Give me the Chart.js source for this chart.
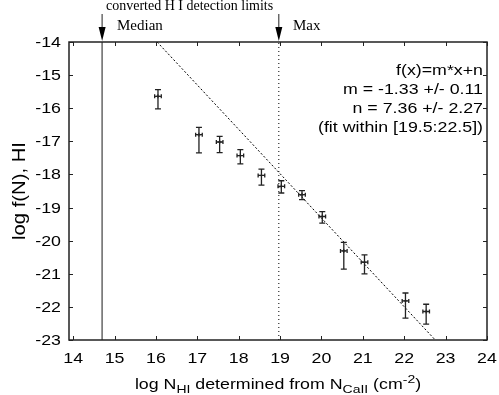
<!DOCTYPE html>
<html lang="en">
<head>
  <meta charset="UTF-8">
  <title>HI column density distribution</title>
  <style>
    body { margin: 0; padding: 0; background: #fff; }
    #wrap { width: 499px; height: 395px; }
  </style>
</head>
<body>
<div id="wrap"><canvas id="fnChart" width="499" height="395"></canvas></div>

<script src="https://cdn.jsdelivr.net/npm/chart.js"></script>
<script>
  // binned values
  const logN   = [16.05, 17.04, 17.54, 18.04, 18.55, 19.03, 19.53, 20.02, 20.54, 21.04, 22.03, 22.53];
  const logF   = [-15.64, -16.80, -17.02, -17.43, -18.03, -18.36, -18.61, -19.27, -20.31, -20.65, -21.82, -22.14];
  const logFHi = [-15.44, -16.58, -16.85, -17.25, -17.84, -18.19, -18.49, -19.12, -20.05, -20.43, -21.58, -21.92];
  const logFLo = [-16.02, -17.35, -17.34, -17.68, -18.32, -18.56, -18.76, -19.47, -20.86, -21.00, -22.34, -22.52];
  const logNErr = [0.08, 0.08, 0.08, 0.08, 0.08, 0.08, 0.08, 0.08, 0.08, 0.08, 0.08, 0.08];

  // linear fit f(x)=m*x+n, ends where it leaves the frame
  const fitX = [16.03, 22.75];
  const fitY = [-14, -23];

  // detection limits
  const medianX = 14.70;
  const maxX = 18.97;

  const xTicks = [14, 15, 16, 17, 18, 19, 20, 21, 22, 23, 24];
  const yTicks = [-23, -22, -21, -20, -19, -18, -17, -16, -15, -14];

  const fitLabels = ['f(x)=m*x+n', 'm = -1.33 +/- 0.11', 'n = 7.36 +/- 2.27', '(fit within [19.5:22.5])'];

  const SANS = '"Liberation Sans", Arial, sans-serif';
  const SERIF = '"Liberation Serif", "Times New Roman", serif';
  const STRETCH = 1.27;

  function wideText(ctx, txt, x, y, align) {
    ctx.save();
    ctx.translate(x, y);
    ctx.scale(STRETCH, 1);
    ctx.textAlign = align;
    ctx.fillText(txt, 0, 0);
    ctx.restore();
  }

  const decorations = {
    id: 'decorations',
    afterDatasetsDraw(chart) {
      const ctx = chart.ctx;
      const xs = chart.scales.x, ys = chart.scales.y;

      // error bars
      ctx.save();
      ctx.strokeStyle = '#222';
      ctx.lineWidth = 1.3;
      for (let i = 0; i < logN.length; i++) {
        const px = xs.getPixelForValue(logN[i]);
        const py = ys.getPixelForValue(logF[i]);
        const top = ys.getPixelForValue(logFHi[i]);
        const bot = ys.getPixelForValue(logFLo[i]);
        const l = xs.getPixelForValue(logN[i] - logNErr[i]);
        const r = xs.getPixelForValue(logN[i] + logNErr[i]);
        ctx.beginPath();
        ctx.moveTo(px, top); ctx.lineTo(px, bot);
        ctx.moveTo(px - 3, top); ctx.lineTo(px + 3, top);
        ctx.moveTo(px - 3, bot); ctx.lineTo(px + 3, bot);
        ctx.moveTo(l, py); ctx.lineTo(r, py);
        ctx.moveTo(l, py - 2); ctx.lineTo(l, py + 2);
        ctx.moveTo(r, py - 2); ctx.lineTo(r, py + 2);
        ctx.stroke();
      }
      ctx.restore();
    },
    afterDraw(chart) {
      const ctx = chart.ctx;
      const xs = chart.scales.x, ys = chart.scales.y;
      const a = chart.chartArea;

      ctx.save();
      // frame
      ctx.strokeStyle = '#222';
      ctx.lineWidth = 1.5;
      ctx.strokeRect(a.left, a.top, a.right - a.left, a.bottom - a.top);

      // inward ticks on all four sides
      ctx.lineWidth = 1;
      ctx.beginPath();
      xTicks.forEach(v => {
        const p = Math.round(xs.getPixelForValue(v)) + 0.5;
        ctx.moveTo(p, a.bottom); ctx.lineTo(p, a.bottom - 4);
        ctx.moveTo(p, a.top); ctx.lineTo(p, a.top + 4);
      });
      yTicks.forEach(v => {
        const p = Math.round(ys.getPixelForValue(v)) + 0.5;
        ctx.moveTo(a.left, p); ctx.lineTo(a.left + 4, p);
        ctx.moveTo(a.right, p); ctx.lineTo(a.right - 4, p);
      });
      ctx.stroke();

      // tick labels
      ctx.fillStyle = '#000';
      ctx.font = '14px ' + SANS;
      ctx.textBaseline = 'alphabetic';
      xTicks.forEach(v => wideText(ctx, String(v), xs.getPixelForValue(v), 363, 'center'));
      yTicks.forEach(v => wideText(ctx, String(v), 61, ys.getPixelForValue(v) + 5, 'right'));

      // x title with sub/superscripts
      const parts = [
        { t: 'log N', s: 14, dy: 0 },
        { t: 'HI', s: 11, dy: 4 },
        { t: ' determined from N', s: 14, dy: 0 },
        { t: 'CaII', s: 11, dy: 4 },
        { t: ' (cm', s: 14, dy: 0 },
        { t: '-2', s: 11, dy: -6 },
        { t: ')', s: 14, dy: 0 }
      ];
      let total = 0;
      parts.forEach(p => { ctx.font = p.s + 'px ' + SANS; p.w = ctx.measureText(p.t).width * STRETCH; total += p.w; });
      let cx = (a.left + a.right) / 2 - total / 2;
      parts.forEach(p => {
        ctx.font = p.s + 'px ' + SANS;
        wideText(ctx, p.t, cx, 389 + p.dy, 'left');
        cx += p.w;
      });

      // y title
      ctx.font = '15px ' + SANS;
      ctx.save();
      ctx.translate(25, (a.top + a.bottom) / 2);
      ctx.rotate(-Math.PI / 2);
      ctx.scale(1.35, STRETCH);
      ctx.textAlign = 'center';
      ctx.fillText('log f(N), HI', 0, 0);
      ctx.restore();

      // fit annotation
      ctx.font = '14px ' + SANS;
      fitLabels.forEach((t, i) => wideText(ctx, t, 483, 75 + i * 19, 'right'));

      // detection limit arrows
      [medianX, maxX].forEach(v => {
        const p = xs.getPixelForValue(v);
        ctx.beginPath();
        ctx.moveTo(p, 14); ctx.lineTo(p, 30);
        ctx.stroke();
        ctx.beginPath();
        ctx.moveTo(p - 3.5, 27); ctx.lineTo(p + 3.5, 27); ctx.lineTo(p, a.top - 1);
        ctx.closePath();
        ctx.fill();
      });
      ctx.font = '14px ' + SERIF;
      ctx.textAlign = 'left';
      ctx.fillText('converted H I detection limits', 106, 10);
      ctx.font = '15px ' + SERIF;
      ctx.fillText('Median', 117, 30);
      ctx.fillText('Max', 293, 30);
      ctx.restore();
    }
  };

  const ctx = document.getElementById('fnChart').getContext('2d');

  new Chart(ctx, {
    type: 'scatter',
    data: {
      datasets: [
        {
          label: 'f(N)',
          data: logN.map((x, i) => ({ x: x, y: logF[i] })),
          pointStyle: 'cross',
          radius: 2,
          borderColor: '#000',
          borderWidth: 1
        },
        {
          type: 'line',
          label: 'fit',
          data: fitX.map((x, i) => ({ x: x, y: fitY[i] })),
          borderColor: '#000',
          borderWidth: 1,
          borderDash: [2, 2],
          pointRadius: 0
        },
        {
          type: 'line',
          label: 'median',
          data: [{ x: medianX, y: -23 }, { x: medianX, y: -14 }],
          borderColor: '#666',
          borderWidth: 1.5,
          pointRadius: 0
        },
        {
          type: 'line',
          label: 'max',
          data: [{ x: maxX, y: -23 }, { x: maxX, y: -14 }],
          borderColor: '#000',
          borderWidth: 1,
          borderDash: [1, 3],
          pointRadius: 0
        }
      ]
    },
    options: {
      responsive: false,
      animation: false,
      devicePixelRatio: 1,
      layout: { padding: { top: 42, right: 12, left: 0, bottom: 0 } },
      plugins: {
        legend: { display: false },
        tooltip: { enabled: false }
      },
      scales: {
        x: {
          type: 'linear',
          min: 13.9,
          max: 24,
          grid: { display: false },
          border: { display: false },
          ticks: { display: false },
          afterFit: s => { s.height = 55; }
        },
        y: {
          type: 'linear',
          min: -23,
          max: -14,
          grid: { display: false },
          border: { display: false },
          ticks: { display: false },
          afterFit: s => { s.width = 69; }
        }
      }
    },
    plugins: [decorations]
  });
</script>
</body>
</html>
